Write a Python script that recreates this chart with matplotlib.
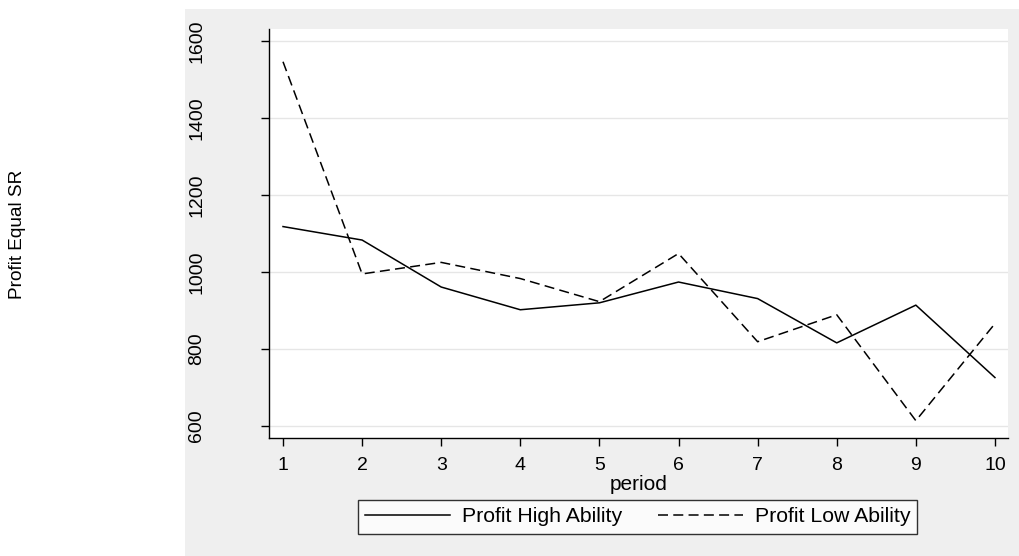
import numpy as np
import matplotlib
matplotlib.use('Agg')
import matplotlib.pyplot as plt
from matplotlib.patches import Rectangle

# ---- Data ----
period = [1, 2, 3, 4, 5, 6, 7, 8, 9, 10]
profit_high = [1118, 1083, 961, 902, 920, 974, 931, 816, 914, 726]
profit_low = [1546, 995, 1025, 983, 923, 1048, 819, 889, 614, 866]
yticks = [600, 800, 1000, 1200, 1400, 1600]

plt.rcParams['font.family'] = ['Liberation Sans', 'DejaVu Sans']
plt.rcParams['lines.scale_dashes'] = False

W, H = 1019, 556
fig = plt.figure(figsize=(W / 100, H / 100), dpi=100)
fig.patch.set_facecolor('white')

# Stata-style light gray graph region
fig.add_artist(Rectangle((185 / W, 0), 1 - 185 / W, (H - 9) / H,
                         transform=fig.transFigure, facecolor='#efefef',
                         edgecolor='none', zorder=0))

ax = fig.add_axes([269 / W, (H - 438) / H, (1008 - 269) / W, (438 - 29) / H])
ax.set_facecolor('white')

ax.plot(period, profit_high, color='black', lw=1.1, label='Profit High Ability')
ax.plot(period, profit_low, color='black', lw=1.1, linestyle=(0, (7.2, 3.8)),
        label='Profit Low Ability')

ax.set_xlim(0.823, 10.165)
ax.set_ylim(569, 1631)
ax.set_xticks(period)
ax.set_yticks(yticks)
ax.yaxis.grid(True, color='#e6e6e6', lw=1.0)
ax.set_axisbelow(True)

for side in ['top', 'right']:
    ax.spines[side].set_visible(False)
for side in ['left', 'bottom']:
    ax.spines[side].set_linewidth(1.0)

ax.tick_params(axis='x', length=5.5, width=1.0, pad=8, labelsize=14)
ax.tick_params(axis='y', length=6, width=1.0, pad=40, labelsize=14)
for lab in ax.get_yticklabels():
    lab.set_rotation(90)
    lab.set_va('center')

ax.set_xlabel('period', fontsize=15, labelpad=1)

fig.text(18 / W, 1 - 234 / H, 'Profit Equal SR', rotation=90,
         ha='center', va='center', fontsize=13.7)

leg = fig.legend(loc='center', bbox_to_anchor=(637.5 / W, 39 / H), ncol=2,
                 fontsize=15.3, frameon=True, fancybox=False, handlelength=4.0,
                 columnspacing=1.7, borderpad=0.33, handletextpad=0.55,
                 borderaxespad=0)
leg.get_frame().set_edgecolor('black')
leg.get_frame().set_linewidth(1.0)
leg.get_frame().set_facecolor('white')

plt.savefig('out.png', dpi=100, facecolor='white')
